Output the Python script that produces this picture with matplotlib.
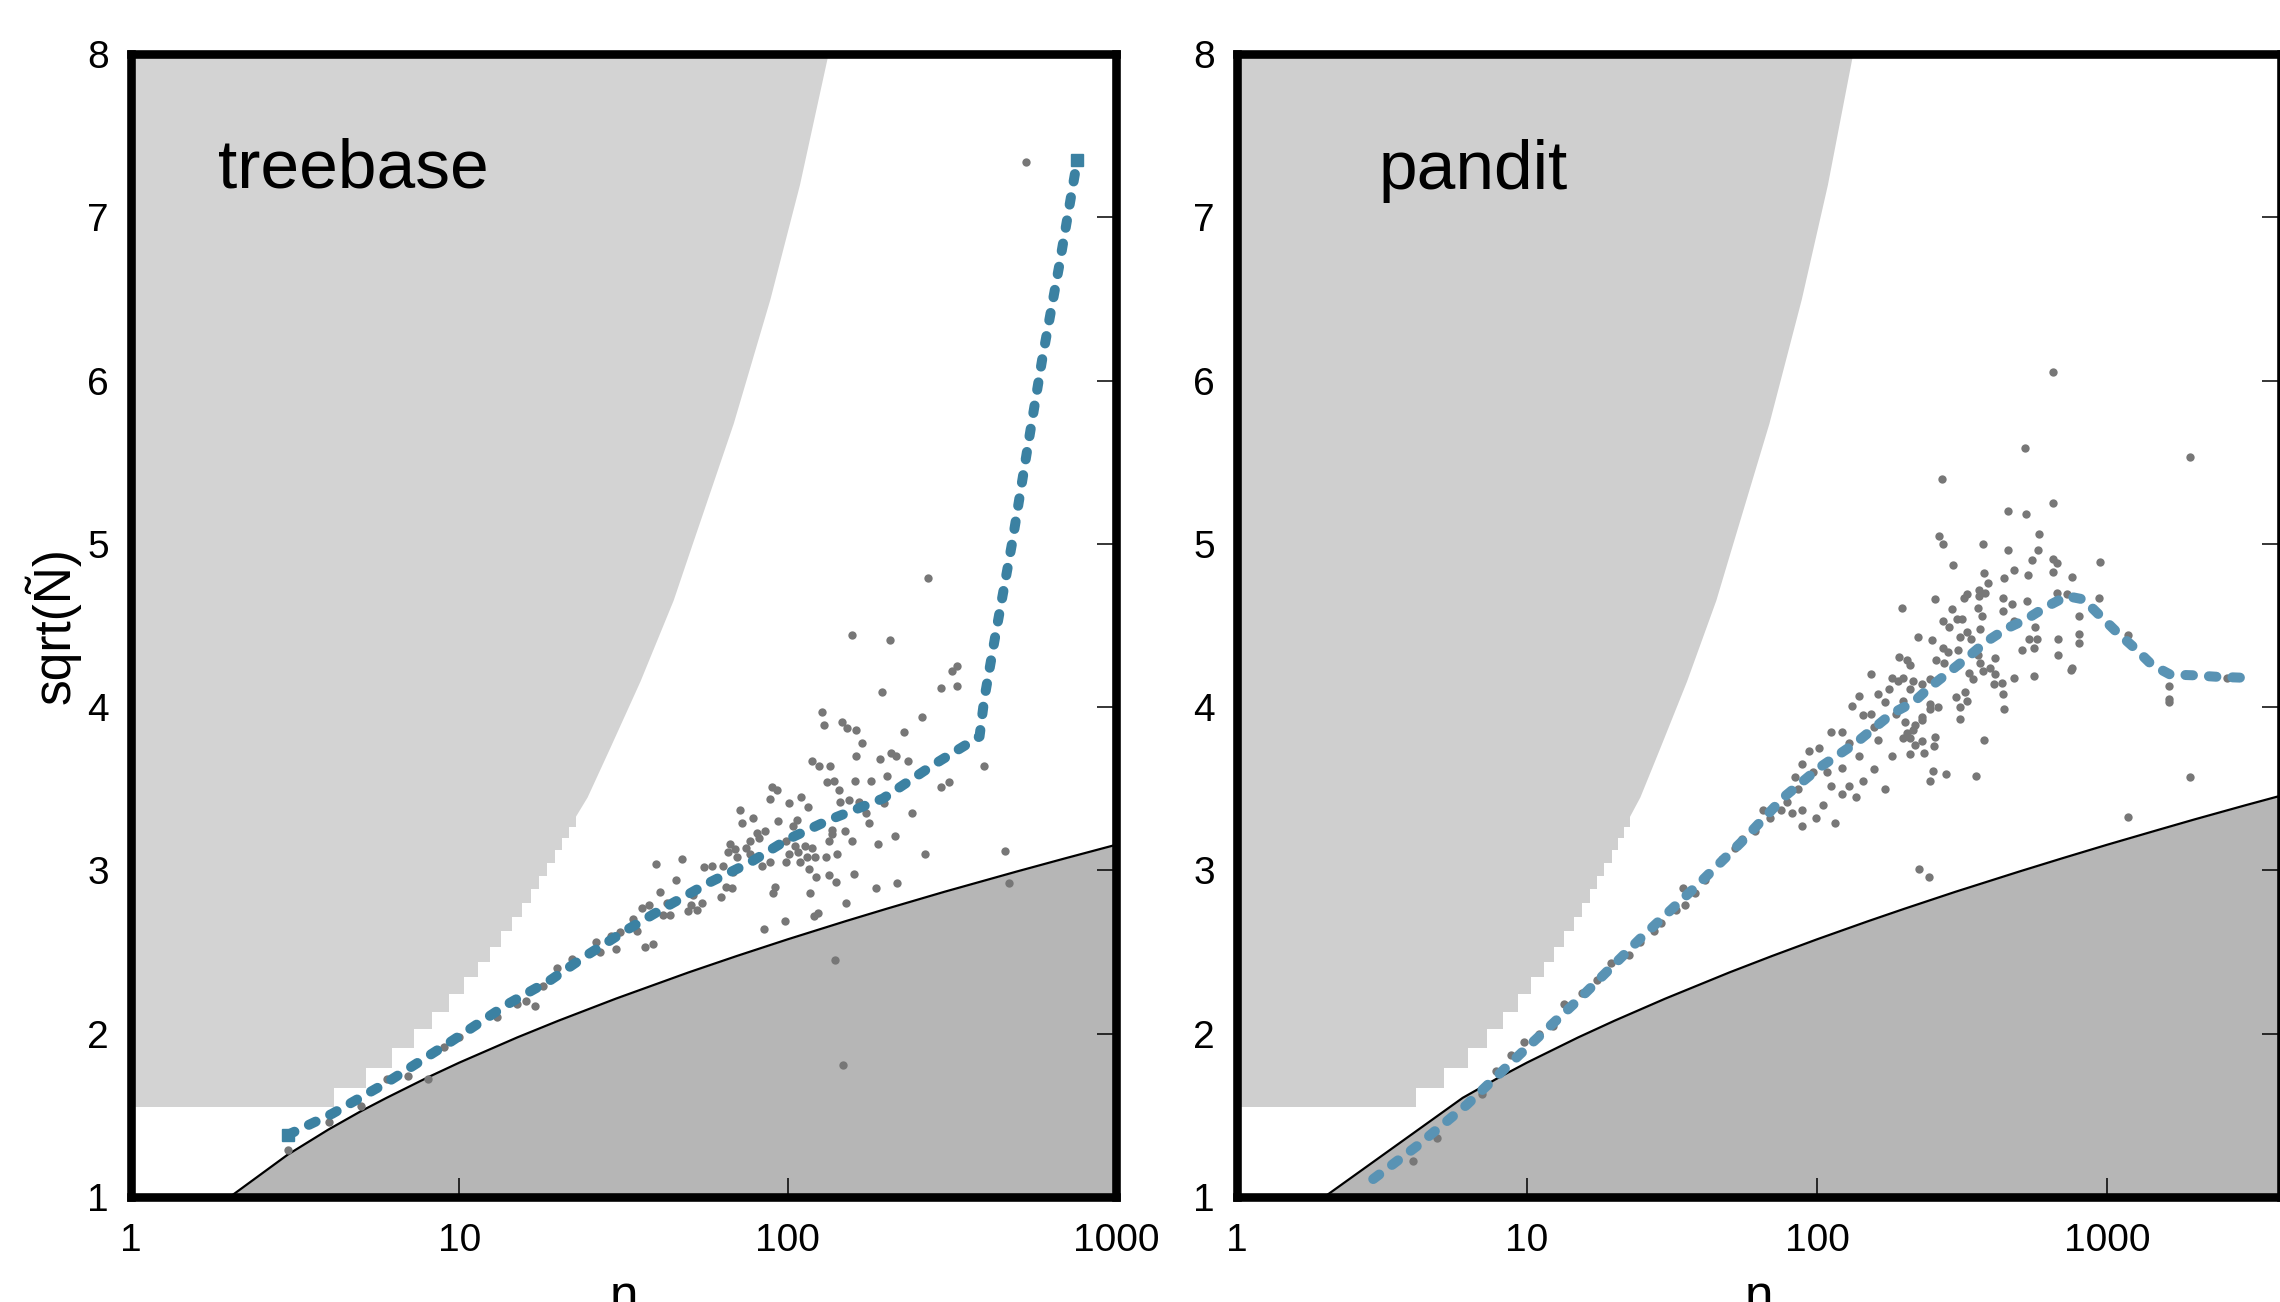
import numpy as np
import matplotlib
matplotlib.use('Agg')
import matplotlib.pyplot as plt
from matplotlib.ticker import NullLocator

plt.rcParams['font.family'] = ['Liberation Sans', 'DejaVu Sans']
###############################################################################
# Data
###############################################################################
# Lower bound curve --------------------------------------------------------------
bound_n = [2, 3, 4, 5, 6, 8, 10, 15, 20, 30, 50, 70, 100, 150, 200, 300,
           500, 700, 1000, 1500, 2000, 3000, 4000]
bound_y = [1.0, 1.259, 1.414, 1.524, 1.607, 1.732, 1.823, 1.977, 2.079,
           2.215, 2.376, 2.476, 2.578, 2.689, 2.765, 2.869, 2.994, 3.074,
           3.157, 3.248, 3.312, 3.399, 3.459]
# Upper (unreachable) region: staircase part then smooth part ------------------
step_n = [1, 4.15, 5.18, 6.24, 7.26, 8.26, 9.28, 10.3, 11.4, 12.4, 13.4,
          14.5, 15.5, 16.5, 17.5, 18.5, 19.6, 20.6, 21.6, 22.6]
step_y = [1.55, 1.666, 1.788, 1.91, 2.027, 2.135, 2.243, 2.349, 2.441,
          2.533, 2.629, 2.716, 2.80, 2.886, 2.966, 3.047, 3.125, 3.196, 3.268,
          3.268]
curve_n = [21.6, 24.5, 28.8, 35.5, 44.8, 50.2, 68.3, 88.3, 108.6, 132, 140]
curve_y = [3.268, 3.45, 3.757, 4.16, 4.656, 4.95, 5.74, 6.5, 7.2, 7.98, 8.2]
# treebase ---------------------------------------------------------------------
tb_line_n = [3, 4.1, 6.0, 9.4, 14, 19, 24, 32, 42, 57, 77, 100, 134, 195,
             277, 384, 397, 431, 484, 537, 597, 671, 762]
tb_line_y = [1.38, 1.51, 1.70, 1.95, 2.18, 2.33, 2.47, 2.63, 2.77, 2.92,
             3.05, 3.19, 3.31, 3.44, 3.645, 3.82, 4.05, 4.46, 5.02, 5.58,
             6.14, 6.70, 7.35]
tb_pts = [
    (156.9, 4.44), (205, 4.41), (327, 4.25), (317, 4.22), (294, 4.12),
    (327, 4.13), (194, 4.09), (127, 3.97), (129, 3.89), (146, 3.91),
    (152, 3.87), (161, 3.86), (256, 3.94), (226, 3.85), (168, 3.78),
    (162, 3.70), (207, 3.72), (214, 3.70), (191, 3.68), (232, 3.67),
    (119, 3.67), (125, 3.64), (135, 3.64), (397, 3.64), (132, 3.54),
    (138, 3.55), (160, 3.55), (180, 3.55), (200, 3.58), (309, 3.54),
    (294, 3.51), (89.6, 3.51), (92.6, 3.49), (88.4, 3.44), (110, 3.45),
    (143, 3.49), (144, 3.42), (154, 3.43), (165, 3.42), (197, 3.41),
    (101, 3.41), (115, 3.39), (173, 3.35), (239, 3.35), (71.6, 3.37),
    (78.4, 3.32), (72.6, 3.29), (93.5, 3.30), (107, 3.31), (104, 3.27),
    (177, 3.29), (136, 3.25), (136.4, 3.22), (149, 3.24), (80.7, 3.23),
    (85.5, 3.24), (81.6, 3.20), (76.6, 3.18), (66.6, 3.16), (69.3, 3.13),
    (65.9, 3.11), (70.3, 3.08), (74.5, 3.14), (76.6, 3.10), (99.1, 3.18),
    (105, 3.15), (113, 3.15), (119, 3.14), (134, 3.18), (157, 3.18),
    (188, 3.16), (212, 3.21), (101, 3.10), (107.5, 3.11), (114.5, 3.08),
    (121, 3.08), (131, 3.08), (141, 3.10), (109, 3.05), (99.1, 3.05),
    (83.4, 3.03), (88.2, 3.05), (262, 3.10), (116, 3.01), (122, 2.96),
    (134, 2.97), (140, 2.93), (159, 2.98), (55.7, 3.02), (58.9, 3.03),
    (63.6, 3.03), (68.2, 2.99), (47.8, 3.07), (39.8, 3.04), (45.8, 2.94),
    (40.9, 2.87), (65.1, 2.90), (67.9, 2.89), (62.6, 2.84), (91.5, 2.90),
    (90.4, 2.86), (117, 2.86), (186, 2.89), (215, 2.92), (51.3, 2.85),
    (54.9, 2.80), (50.6, 2.79), (53.1, 2.76), (49.7, 2.75), (36, 2.77),
    (37.9, 2.79), (42.9, 2.80), (41.7, 2.73), (43.7, 2.73), (151, 2.80),
    (124, 2.74), (120, 2.72), (98.4, 2.69), (84.6, 2.64), (33.9, 2.70),
    (34.8, 2.63), (30.8, 2.62), (29, 2.60), (26, 2.56), (26.9, 2.50),
    (29.9, 2.52), (36.8, 2.53), (38.9, 2.55), (22.1, 2.46), (19.9, 2.40),
    (139, 2.45), (3.0, 1.29), (4.0, 1.46), (5.0, 1.56), (6.0, 1.72),
    (7.0, 1.74), (8.0, 1.72), (9.0, 1.92), (10, 1.98), (13, 2.10),
    (15, 2.18), (16, 2.20), (17, 2.17), (18, 2.29), (268, 4.79),
    (532, 7.34), (458, 3.12), (471, 2.92), (147, 1.81),
]
# pandit -----------------------------------------------------------------------
pd_line_n = [2.95, 4.16, 6.2, 9.8, 15.5, 24.5, 38.7, 54.6, 77, 102, 136,
             181, 215, 248, 288, 333, 383, 449, 529, 611, 726, 829, 946,
             1080, 1249, 1426, 1649, 1985, 2389, 2950]
pd_line_y = [1.11, 1.31, 1.565, 1.90, 2.23, 2.58, 2.91, 3.17, 3.45, 3.63,
             3.78, 3.96, 4.03, 4.13, 4.22, 4.31, 4.40, 4.48, 4.54, 4.61,
             4.68, 4.66, 4.56, 4.46, 4.36, 4.26, 4.20, 4.195, 4.186, 4.18]
pd_pts = [
    (523, 5.59), (1933, 5.53), (269, 5.40), (651, 5.25), (457, 5.20),
    (526, 5.18), (583, 5.06), (263, 5.05), (273, 5.00), (374, 5.00),
    (457, 4.96), (578, 4.96), (551, 4.90), (653, 4.91), (671, 4.88),
    (943, 4.89), (294, 4.87), (653, 4.83), (479, 4.84), (535, 4.81),
    (759, 4.80), (378, 4.82), (390, 4.76), (440, 4.79), (362, 4.72),
    (380, 4.70), (363, 4.68), (320, 4.67), (330, 4.69), (255, 4.66),
    (197, 4.61), (291, 4.60), (360, 4.61), (438, 4.67), (470, 4.63),
    (528, 4.65), (671, 4.70), (726, 4.69), (938, 4.67), (272, 4.53),
    (303, 4.54), (315, 4.54), (372, 4.56), (437, 4.59), (478, 4.53),
    (565, 4.49), (801, 4.56), (286, 4.49), (365, 4.48), (328, 4.46),
    (223, 4.43), (249, 4.41), (310, 4.43), (339, 4.42), (537, 4.42),
    (575, 4.42), (678, 4.42), (801, 4.45), (801, 4.39), (1184, 4.44),
    (271, 4.36), (284, 4.34), (307, 4.35), (358, 4.32), (412, 4.30),
    (511, 4.35), (559, 4.36), (679, 4.32), (257, 4.29), (204, 4.29),
    (209, 4.26), (274, 4.27), (307, 4.26), (364, 4.27), (375, 4.22),
    (394, 4.24), (411, 4.20), (333, 4.21), (759, 4.24), (753, 4.23),
    (560, 4.19), (479, 4.18), (346, 4.17), (434, 4.15), (409, 4.14),
    (198, 4.18), (215, 4.16), (230, 4.14), (245, 4.17), (209, 4.11),
    (198, 4.04), (324, 4.09), (302, 4.06), (328, 4.04), (437, 4.08),
    (443, 3.99), (312, 4.00), (245, 3.99), (262, 4.00), (245, 4.02),
    (1640, 4.13), (1640, 4.05), (1640, 4.03), (2586, 4.18), (230, 3.94),
    (201, 3.91), (218, 3.89), (204, 3.84), (215, 3.86), (230, 3.92),
    (255, 3.82), (310, 3.93), (376, 3.80), (198, 3.81), (209, 3.81),
    (231, 3.79), (254, 3.76), (217, 3.77), (233, 3.72), (209, 3.71),
    (252, 3.61), (279, 3.59), (353, 3.58), (246, 3.55), (1933, 3.57),
    (1184, 3.33), (224, 3.01), (244, 2.96), (650, 6.05),
    (190, 4.16), (177, 4.11), (153, 4.20), (140, 4.07), (132, 4.01),
    (162, 4.08), (144, 3.95), (157, 3.88), (122, 3.85), (129, 3.78),
    (112, 3.85), (102, 3.75), (94, 3.73), (89, 3.65), (84, 3.57),
    (97, 3.60), (108, 3.60), (122, 3.63), (129, 3.52), (112, 3.52),
    (86, 3.50), (79, 3.42), (75, 3.37), (69, 3.32), (65, 3.37),
    (82, 3.35), (89, 3.37), (61, 3.24), (55, 3.19), (52, 3.14),
    (47, 3.07), (41, 2.94), (38, 2.86), (34.5, 2.89), (35, 2.79),
    (32.6, 2.76), (29, 2.68), (27.5, 2.63), (24.5, 2.56), (22.5, 2.48),
    (19.5, 2.43), (17.4, 2.33), (15.5, 2.25), (13.4, 2.18), (12.3, 2.05),
    (11, 2.00), (9.8, 1.95), (8.8, 1.87), (7.8, 1.77), (7.0, 1.63),
    (4.9, 1.36), (4.05, 1.22),
    (192, 4.31), (182, 4.18), (171, 4.03), (153, 3.96), (187, 3.96),
    (162, 3.80), (140, 3.70), (182, 3.70), (157, 3.62), (144, 3.55),
    (122, 3.47), (136, 3.45), (171, 3.50), (105, 3.40), (115, 3.29),
    (99.5, 3.32), (88.7, 3.27),
]
###############################################################################
# Plot
###############################################################################
fig = plt.figure(figsize=(22.8, 13.02), dpi=100, facecolor='w')
axL = fig.add_axes([0.05746, 0.08065, 0.43202, 0.87788])
axR = fig.add_axes([0.54254, 0.08065, 0.45789, 0.87788])
panels = [
    (axL, 'treebase', tb_pts, tb_line_n, tb_line_y, 1000, '#d3d3d3',
     '#3b81a2', bound_n, bound_y, (0.088, 0.8836)),
    (axR, 'pandit', pd_pts, pd_line_n, pd_line_y, 3980, '#cfcfcf',
     '#5993b4', [2] + bound_n[4:], [1.0] + bound_y[4:], (0.136, 0.882)),
]
for (ax, name, pts, ln, ly, xmax, lgray, blue, bn, by, tpos) in panels:
    (px, py) = np.array(pts).T
    # Regions -----------------------------------------------------------------
    ax.fill_between(step_n, step_y, 8.5, step='post', color=lgray, lw=0,
                    antialiased=False, zorder=0)
    ax.fill_between(curve_n, curve_y, 8.5, color=lgray, lw=0,
                    antialiased=False, zorder=0)
    ax.fill_between(bn, 0.5, by, color='#b6b6b6', lw=0, zorder=1)
    ax.plot(bn, by, color='k', lw=1.6, zorder=2)
    # Data --------------------------------------------------------------------
    ax.scatter(px, py, s=36, c='#777777', linewidths=0, zorder=3)
    ax.plot(ln, ly, color=blue, lw=7.2, ls=(0, (0.75, 1.6)),
            dash_capstyle='round', solid_capstyle='round', zorder=4)
    # Axes --------------------------------------------------------------------
    ax.set_xscale('log')
    ax.set_xlim(1, xmax); ax.set_ylim(1, 8)
    ax.set_xticks([1, 10, 100, 1000])
    ax.set_xticklabels(['1', '10', '100', '1000'])
    ax.xaxis.set_minor_locator(NullLocator())
    ax.set_yticks(range(1, 9))
    ax.tick_params(axis='x', which='both', direction='in', length=14,
                   width=1.1, labelsize=28, pad=19, top=False)
    ax.tick_params(axis='y', which='both', direction='in', length=14,
                   width=1.1, labelsize=28, pad=16, left=False, right=True,
                   labelleft=True)
    for sp in ax.spines.values():
        sp.set_linewidth(6.2); sp.set_color('k'); sp.set_zorder(6)
    ax.text(tpos[0], tpos[1], name, transform=ax.transAxes, fontsize=50,
            ha='left', va='baseline', zorder=7)
    ax.text(0.5, -0.1002, 'n', transform=ax.transAxes, fontsize=37,
            ha='center', va='baseline')
# Square caps at the ends of the treebase trend -------------------------------
axL.plot([tb_line_n[0], tb_line_n[-1]], [tb_line_y[0], tb_line_y[-1]], 's',
         ms=8, color='#3b81a2', zorder=4)
axL.text(-0.0802, 0.5, 'sqrt(Ñ)', transform=axL.transAxes, fontsize=37,
         rotation=90, ha='center', va='center')
# Export ----------------------------------------------------------------------
fig.savefig('out.png', dpi=100, facecolor='w')
